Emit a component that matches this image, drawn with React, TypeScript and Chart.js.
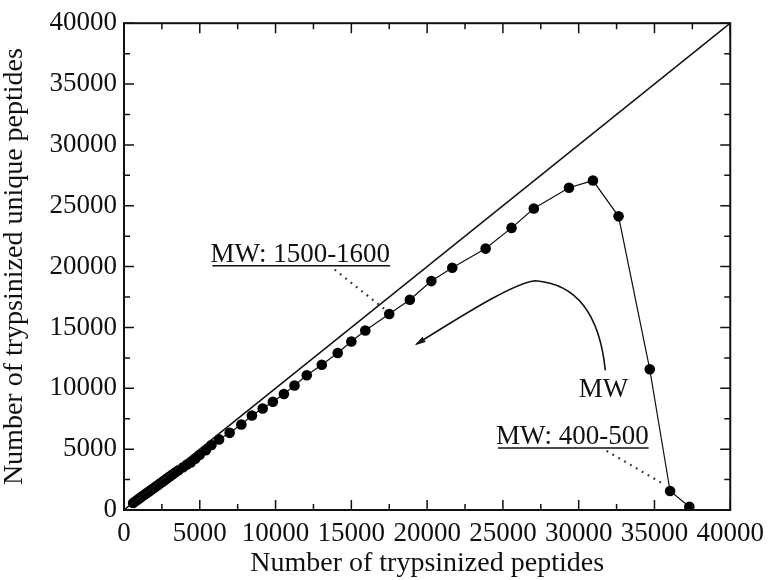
import { useEffect, useRef } from 'react';
import { Chart, registerables } from 'chart.js';

Chart.register(...registerables);

// ---- data ----
const totalPeptides = [600, 750, 900, 1050, 1200, 1350, 1500, 1650, 1800, 1950, 2100, 2250, 2400, 2550, 2700, 2850, 3000, 3200, 3400, 3600, 3900, 4150, 4400, 4700, 5000, 5400, 5770, 6270, 6970, 7740, 8440, 9150, 9820, 10550, 11250, 12060, 13050, 14100, 15000, 15920, 17500, 18860, 20280, 21660, 23860, 25570, 27040, 29360, 30940, 32630, 34690, 36030, 37300];
const uniquePeptides = [570, 710, 850, 980, 1120, 1250, 1390, 1520, 1660, 1790, 1930, 2060, 2200, 2330, 2470, 2600, 2740, 2920, 3100, 3270, 3510, 3730, 3910, 4220, 4530, 4910, 5340, 5800, 6340, 7020, 7770, 8340, 8900, 9530, 10230, 11070, 11930, 12900, 13850, 14750, 16100, 17270, 18810, 19900, 21480, 23180, 24780, 26480, 27070, 24130, 11560, 1560, 270];
const diagonalX = [0, 40000];
const diagonalY = [0, 40000];
const majorTicks = [0, 5000, 10000, 15000, 20000, 25000, 30000, 35000, 40000];
const minorTicks = [2500, 7500, 12500, 17500, 22500, 27500, 32500, 37500];
const xTitle = 'Number of trypsinized peptides';
const yTitle = 'Number of trypsinized unique peptides';
const labelHigh = 'MW: 1500-1600';
const labelLow = 'MW: 400-500';
const labelArrow = 'MW';

// annotation anchors in data units
const highLabelPos = { x: 5700, y: 20400 };
const highLeader = [{ x: 13900, y: 19750 }, { x: 17300, y: 16400 }];
const lowLabelPos = { x: 24540, y: 5420 };
const lowLeader = [{ x: 31840, y: 4860 }, { x: 35700, y: 2050 }];
const arrowLabelPos = { x: 30000, y: 9310 };
const arrowCurve = {
  start: { x: 31757, y: 11474 },
  c0: { x: 31184, y: 18462 },
  peak: { x: 27151, y: 18842 },
  c1: { x: 25921, y: 18704 },
  c2: { x: 23289, y: 16761 },
  tip: { x: 19296, y: 13628 },
};

const FONT = '"Liberation Serif", "Times New Roman", serif';
const INK = '#111111';

const framePlugin = {
  id: 'frameTicks',
  afterDraw(chart: any) {
    const { ctx, chartArea: a, scales } = chart;
    const x = scales.x;
    const y = scales.y;
    ctx.save();
    ctx.strokeStyle = INK;
    ctx.lineWidth = 1.5;
    ctx.beginPath();
    const draw = (vals: number[], len: number) => {
      for (const v of vals) {
        const px = x.getPixelForValue(v);
        ctx.moveTo(px, a.bottom);
        ctx.lineTo(px, a.bottom - len);
        ctx.moveTo(px, a.top);
        ctx.lineTo(px, a.top + len);
        const py = y.getPixelForValue(v);
        ctx.moveTo(a.left, py);
        ctx.lineTo(a.left + len, py);
        ctx.moveTo(a.right, py);
        ctx.lineTo(a.right - len, py);
      }
    };
    draw(majorTicks, 10);
    draw(minorTicks, 6);
    ctx.stroke();
    ctx.lineWidth = 2;
    ctx.strokeRect(a.left, a.top, a.right - a.left, a.bottom - a.top);
    ctx.restore();
  },
};

const annotationPlugin = {
  id: 'mwAnnotations',
  afterDatasetsDraw(chart: any) {
    const { ctx, scales } = chart;
    const X = (v: number) => scales.x.getPixelForValue(v);
    const Y = (v: number) => scales.y.getPixelForValue(v);
    ctx.save();
    ctx.fillStyle = INK;
    ctx.strokeStyle = INK;
    ctx.font = `27px ${FONT}`;
    ctx.textBaseline = 'alphabetic';
    ctx.textAlign = 'left';

    const underlined = (text: string, p: { x: number; y: number }) => {
      const px = X(p.x);
      const py = Y(p.y);
      ctx.fillText(text, px, py);
      const w = ctx.measureText(text).width;
      ctx.lineWidth = 1.6;
      ctx.setLineDash([]);
      ctx.beginPath();
      ctx.moveTo(px + 2, py + 4);
      ctx.lineTo(px + w, py + 4);
      ctx.stroke();
    };
    underlined(labelHigh, highLabelPos);
    underlined(labelLow, lowLabelPos);
    ctx.fillText(labelArrow, X(arrowLabelPos.x), Y(arrowLabelPos.y));

    // dotted leaders
    ctx.strokeStyle = '#333';
    ctx.lineWidth = 2.2;
    ctx.setLineDash([1.8, 5]);
    for (const seg of [highLeader, lowLeader]) {
      ctx.beginPath();
      ctx.moveTo(X(seg[0].x), Y(seg[0].y));
      ctx.lineTo(X(seg[1].x), Y(seg[1].y));
      ctx.stroke();
    }

    // curved arrow
    ctx.setLineDash([]);
    ctx.strokeStyle = INK;
    ctx.lineWidth = 1.6;
    const c = arrowCurve;
    ctx.beginPath();
    ctx.moveTo(X(c.start.x), Y(c.start.y));
    ctx.quadraticCurveTo(X(c.c0.x), Y(c.c0.y), X(c.peak.x), Y(c.peak.y));
    ctx.bezierCurveTo(X(c.c1.x), Y(c.c1.y), X(c.c2.x), Y(c.c2.y), X(c.tip.x), Y(c.tip.y));
    ctx.stroke();
    const tx = X(c.tip.x);
    const ty = Y(c.tip.y);
    let dx = tx - X(c.c2.x);
    let dy = ty - Y(c.c2.y);
    const len = Math.hypot(dx, dy);
    dx /= len;
    dy /= len;
    const L = 9;
    const H = 3;
    ctx.beginPath();
    ctx.moveTo(tx + dx * 2, ty + dy * 2);
    ctx.lineTo(tx - dx * L - dy * H, ty - dy * L + dx * H);
    ctx.lineTo(tx - dx * L + dy * H, ty - dy * L - dx * H);
    ctx.closePath();
    ctx.fill();
    ctx.restore();
  },
};

export default function App() {
  const canvasRef = useRef<HTMLCanvasElement | null>(null);

  useEffect(() => {
    document.body.style.margin = '0';
    const canvas = canvasRef.current;
    if (!canvas) return;

    const series = totalPeptides.map((v, i) => ({ x: v, y: uniquePeptides[i] }));
    const diagonal = diagonalX.map((v, i) => ({ x: v, y: diagonalY[i] }));

    const chart = new Chart(canvas, {
      type: 'scatter',
      data: {
        datasets: [
          {
            data: diagonal,
            showLine: true,
            borderColor: INK,
            borderWidth: 1.6,
            pointRadius: 0,
          },
          {
            data: series,
            showLine: true,
            borderColor: INK,
            borderWidth: 1.2,
            backgroundColor: '#000',
            pointBackgroundColor: '#000',
            pointBorderColor: '#000',
            pointRadius: 5.3,
            pointBorderWidth: 0,
          },
        ],
      },
      options: {
        responsive: false,
        animation: false,
        events: [],
        layout: { padding: { left: 0, top: 16, right: 40, bottom: 0 } },
        plugins: { legend: { display: false }, tooltip: { enabled: false } },
        scales: {
          x: {
            type: 'linear',
            min: 0,
            max: 40000,
            afterBuildTicks: (s: any) => {
              s.ticks = majorTicks.map((v) => ({ value: v }));
            },
            afterFit: (s: any) => {
              s.height = 70;
            },
            grid: { display: false, drawTicks: false },
            border: { display: false },
            ticks: {
              padding: 8,
              maxRotation: 0,
              autoSkip: false,
              color: INK,
              font: { family: FONT, size: 27 },
              callback: (v: any) => String(v),
            },
            title: {
              display: true,
              text: xTitle,
              color: INK,
              font: { family: FONT, size: 28, lineHeight: 1 },
              padding: { top: 0, bottom: 2 },
            },
          },
          y: {
            type: 'linear',
            min: 0,
            max: 40000,
            afterBuildTicks: (s: any) => {
              s.ticks = majorTicks.map((v) => ({ value: v }));
            },
            afterFit: (s: any) => {
              s.width = 124;
            },
            grid: { display: false, drawTicks: false },
            border: { display: false },
            ticks: {
              padding: 7,
              autoSkip: false,
              color: INK,
              font: { family: FONT, size: 27 },
              callback: (v: any) => String(v),
            },
            title: {
              display: true,
              text: yTitle,
              color: INK,
              font: { family: FONT, size: 28, lineHeight: 1 },
              padding: { top: 1, bottom: 0 },
            },
          },
        },
      },
      plugins: [framePlugin, annotationPlugin],
    });

    return () => {
      chart.destroy();
    };
  }, []);

  return (
    <div style={{ width: 772, height: 580 }}>
      <canvas ref={canvasRef} width={772} height={580} style={{ display: 'block' }} />
    </div>
  );
}
